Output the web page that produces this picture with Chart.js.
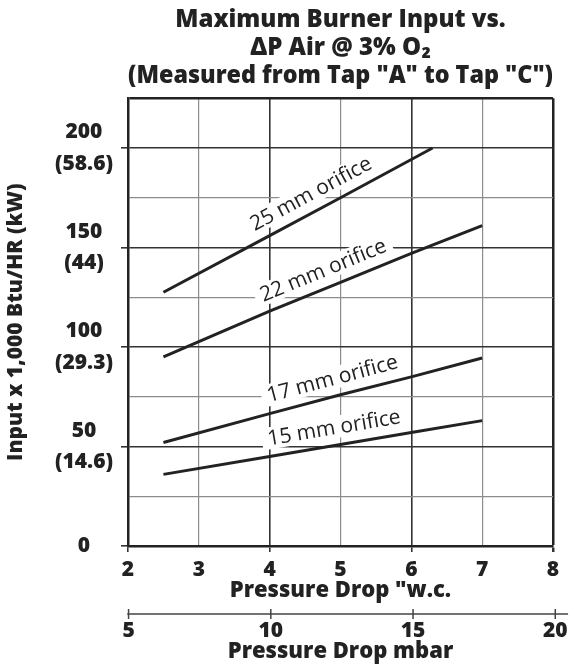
<!DOCTYPE html>
<html lang="en">
<head>
<meta charset="UTF-8">
<title>Maximum Burner Input vs. ΔP Air</title>
<script src="https://cdn.jsdelivr.net/npm/chart.js@4.4.0/dist/chart.umd.min.js"></script>
<style>
  html, body { margin: 0; padding: 0; background: #fff; }
  #wrap { width: 574px; height: 666px; }
</style>
</head>
<body>
<div id="wrap"><canvas id="chart" width="574" height="666"></canvas></div>
<script>
// values ("w.c. -> 1,000 Btu/HR)
const orificeNames = ['25 mm orifice', '22 mm orifice', '17 mm orifice', '15 mm orifice'];
const drop25 = [2.5, 4, 5, 6.3];
const input25 = [127.5, 156, 175, 200];
const drop22 = [2.5, 4, 5, 6, 7];
const input22 = [95, 118, 132.5, 147, 161];
const drop17 = [2.5, 4, 5, 6, 7];
const input17 = [52, 66.5, 76, 85, 94.5];
const drop15 = [2.5, 4, 5, 6, 7];
const input15 = [36, 45, 51, 57, 63];

// where along each line ("w.c.) its name sits
const labelAt = [4.7, 4.85, 4.95, 4.95];

// axis ticks
const btuTicks = ['0', '50', '100', '150', '200'];
const kwTicks = ['', '(14.6)', '(29.3)', '(44)', '(58.6)'];
const mbarTicks = [5, 10, 15, 20];
const mbarRange = [4.95, 20.45];
const MBAR_PER_INWC = 2.49;

const BOLD = '"Open Sans"';
const HEAVY = '800';
const INK = '#222';

function pairs(xs, ys) {
    return xs.map((v, i) => ({ x: v, y: ys[i] }));
}

const series = [pairs(drop25, input25), pairs(drop22, input22), pairs(drop17, input17), pairs(drop15, input15)];

// rotated orifice names with a white box behind them
const orificeLabels = {
    id: 'orificeLabels',
    afterDatasetsDraw(chart) {
        const { ctx, scales: { x, y } } = chart;
        ctx.save();
        ctx.font = '21px "Open Sans"';
        chart.data.datasets.forEach((ds, i) => {
            const pts = ds.data;
            const at = labelAt[i];
            let k = 0;
            while (k < pts.length - 2 && pts[k + 1].x < at) k++;
            const a = pts[k], b = pts[k + 1];
            const vy = a.y + (at - a.x) / (b.x - a.x) * (b.y - a.y);
            const first = pts[0], last = pts[pts.length - 1];
            const ang = Math.atan2(
                y.getPixelForValue(last.y) - y.getPixelForValue(first.y),
                x.getPixelForValue(last.x) - x.getPixelForValue(first.x));
            ctx.save();
            ctx.translate(x.getPixelForValue(at), y.getPixelForValue(vy));
            ctx.rotate(ang);
            ctx.translate(0, -17);
            const w = ctx.measureText(ds.label).width;
            ctx.fillStyle = '#fff';
            ctx.fillRect(-w / 2 - 6, -12, w + 12, 22);
            ctx.fillStyle = INK;
            ctx.textAlign = 'center';
            ctx.textBaseline = 'middle';
            ctx.fillText(ds.label, 0, 0);
            ctx.restore();
        });
        ctx.restore();
    }
};

// second pressure scale in mbar under the "w.c. axis
const mbarAxis = {
    id: 'mbarAxis',
    afterDraw(chart) {
        const { ctx, chartArea, scales: { x } } = chart;
        const px = mb => x.getPixelForValue(mb / MBAR_PER_INWC);
        const yLine = chartArea.bottom + 68;
        ctx.save();
        ctx.strokeStyle = '#444';
        ctx.lineWidth = 1.5;
        ctx.beginPath();
        ctx.moveTo(px(mbarRange[0]), yLine);
        ctx.lineTo(px(mbarRange[1]), yLine);
        mbarTicks.forEach(t => {
            ctx.moveTo(px(t), yLine - 5);
            ctx.lineTo(px(t), yLine + 5);
        });
        ctx.stroke();
        ctx.fillStyle = INK;
        ctx.textAlign = 'center';
        ctx.textBaseline = 'middle';
        ctx.font = HEAVY + ' 21px ' + BOLD;
        mbarTicks.forEach(t => ctx.fillText(String(t), px(t), yLine + 17));
        ctx.font = HEAVY + ' 22px ' + BOLD;
        ctx.fillText('Pressure Drop mbar', (chartArea.left + chartArea.right) / 2, yLine + 38);
        ctx.restore();
    }
};

const isMajorY = v => v % 50 === 0;
const isMajorX = v => v % 2 === 0;

new Chart(document.getElementById('chart'), {
    type: 'line',
    data: {
        datasets: series.map((pts, i) => ({
            label: orificeNames[i],
            data: pts,
            borderColor: INK,
            borderWidth: 3,
            pointRadius: 0,
            tension: 0,
            fill: false
        }))
    },
    options: {
        responsive: false,
        animation: false,
        layout: { padding: { top: 0, right: 21, bottom: 58, left: 0 } },
        plugins: {
            legend: { display: false },
            tooltip: { enabled: false },
            title: {
                display: true,
                fullSize: false,
                text: ['Maximum Burner Input vs.', 'ΔP Air @ 3% O₂', '(Measured from Tap "A" to Tap "C")'],
                color: INK,
                font: { family: BOLD, size: 24, weight: HEAVY, lineHeight: 1.17 },
                padding: { top: 6, bottom: 8 }
            }
        },
        scales: {
            x: {
                type: 'linear',
                min: 2,
                max: 8,
                afterFit: s => { s.height = 62; },
                ticks: {
                    stepSize: 1,
                    padding: 5,
                    autoSkip: false,
                    color: INK,
                    font: { family: BOLD, size: 21, weight: HEAVY }
                },
                grid: {
                    color: c => c.tick.value === 8 ? INK : (isMajorX(c.tick.value) ? '#333' : '#8c8c8c'),
                    lineWidth: c => c.tick.value === 8 ? 2.5 : (isMajorX(c.tick.value) ? 1.6 : 1.2),
                    tickColor: c => isMajorX(c.tick.value) ? '#333' : 'rgba(0,0,0,0)',
                    tickLength: 6
                },
                border: { color: INK, width: 2.5 },
                title: {
                    display: true,
                    text: 'Pressure Drop "w.c.',
                    color: INK,
                    font: { family: BOLD, size: 22, weight: HEAVY },
                    padding: { top: 0, bottom: 4 }
                }
            },
            y: {
                min: 0,
                max: 225,
                afterFit: s => { s.width = 128; },
                ticks: {
                    stepSize: 25,
                    padding: 8,
                    autoSkip: false,
                    crossAlign: 'center',
                    color: INK,
                    font: { family: BOLD, size: 21, weight: HEAVY, lineHeight: 1.5 },
                    callback: v => {
                        if (!isMajorY(v) || v > 200) return '';
                        const i = v / 50;
                        return kwTicks[i] ? [btuTicks[i], kwTicks[i]] : btuTicks[i];
                    }
                },
                grid: {
                    color: c => c.tick.value === 225 ? INK : (isMajorY(c.tick.value) ? '#333' : '#8c8c8c'),
                    lineWidth: c => c.tick.value === 225 ? 2.5 : (isMajorY(c.tick.value) ? 1.6 : 1.2),
                    tickColor: c => isMajorY(c.tick.value) && c.tick.value < 225 ? '#333' : 'rgba(0,0,0,0)',
                    tickLength: 7
                },
                border: { color: INK, width: 2.5 },
                title: {
                    display: true,
                    text: 'Input x 1,000 Btu/HR (kW)',
                    color: INK,
                    font: { family: BOLD, size: 21, weight: HEAVY },
                    padding: { top: 3, bottom: 0 }
                }
            }
        }
    },
    plugins: [orificeLabels, mbarAxis]
});
</script>
</body>
</html>
